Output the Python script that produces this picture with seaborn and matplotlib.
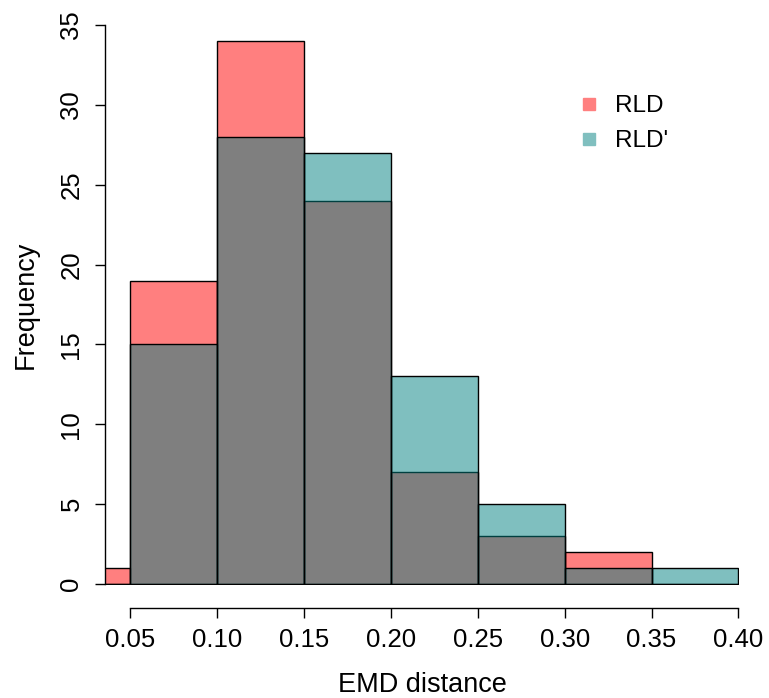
import numpy as np
import pandas as pd
import seaborn as sns
import matplotlib
matplotlib.use("Agg")
import matplotlib.pyplot as plt
from matplotlib.lines import Line2D

# ---- data ----
bin_edges = [0.00, 0.05, 0.10, 0.15, 0.20, 0.25, 0.30, 0.35, 0.40]
rld_counts = [1, 19, 34, 24, 7, 3, 2, 0]
rld_prime_counts = [0, 15, 28, 27, 13, 5, 1, 1]
x_ticks = [0.05, 0.10, 0.15, 0.20, 0.25, 0.30, 0.35, 0.40]
y_ticks = [0, 5, 10, 15, 20, 25, 30, 35]
series_labels = ["RLD", "RLD'"]

centers = [(a + b) / 2 for a, b in zip(bin_edges[:-1], bin_edges[1:])]
df_rld = pd.DataFrame({"x": centers, "w": rld_counts})
df_rldp = pd.DataFrame({"x": centers, "w": rld_prime_counts})

sns.set_style("white")
plt.rcParams["font.family"] = ["Liberation Sans", "DejaVu Sans"]
plt.rcParams["text.color"] = "black"
plt.rcParams["axes.labelcolor"] = "black"

W, H = 769, 698
fig = plt.figure(figsize=(W / 100, H / 100), dpi=100)
left, right, top, bottom = 105, 739, 25, 585
ax = fig.add_axes([left / W, 1 - bottom / H, (right - left) / W, (bottom - top) / H])

red_face = (1.0, 0.0, 0.0, 0.5)
teal_face = (0.0, 0.5, 0.5, 0.5)

sns.histplot(data=df_rld, x="x", weights="w", bins=bin_edges, ax=ax,
             stat="count", color="red")
n_red = len(ax.patches)
sns.histplot(data=df_rldp, x="x", weights="w", bins=bin_edges, ax=ax,
             stat="count", color="teal")

for i, p in enumerate(ax.patches):
    p.set_alpha(None)
    p.set_facecolor(red_face if i < n_red else teal_face)
    p.set_edgecolor("black")
    p.set_linewidth(1.0)

ax.set_xlim(0.0356, 0.4003)
ax.set_ylim(-0.06, 35)

for s in ["top", "right"]:
    ax.spines[s].set_visible(False)
ax.spines["left"].set_bounds(0, 35)
ax.spines["bottom"].set_bounds(0.05, 0.40)
ax.spines["bottom"].set_position(("outward", 16.5))
for s in ["left", "bottom"]:
    ax.spines[s].set_color("black")
    ax.spines[s].set_linewidth(1.0)

ax.set_xticks(x_ticks)
ax.set_xticklabels([f"{v:.2f}" for v in x_ticks])
ax.set_yticks(y_ticks)
ax.set_yticklabels([str(v) for v in y_ticks], rotation=90, va="center")
ax.tick_params(axis="both", direction="out", length=7.5, width=1.0,
               color="black", labelsize=18.5, labelcolor="black",
               bottom=True, left=True)
ax.tick_params(axis="x", pad=7)
ax.tick_params(axis="y", pad=8)

ax.set_xlabel("EMD distance", fontsize=19.5, labelpad=14.5, color="black")
ax.set_ylabel("Frequency", fontsize=19.5, labelpad=15, color="black")

handles = [
    Line2D([], [], linestyle="none", marker="s", markersize=9,
           markerfacecolor="#FF8080", markeredgecolor="#FF8080"),
    Line2D([], [], linestyle="none", marker="s", markersize=9,
           markerfacecolor="#80BFBF", markeredgecolor="#80BFBF"),
]
leg = fig.legend(handles, series_labels, loc="upper left",
                 bbox_to_anchor=(577 / W, 1 - 95 / H), frameon=False,
                 fontsize=17.5, handlelength=1.0, handletextpad=0.55,
                 labelspacing=0.55, borderaxespad=0, borderpad=0)
for t in leg.get_texts():
    t.set_color("black")

fig.savefig("out.png", dpi=100)
